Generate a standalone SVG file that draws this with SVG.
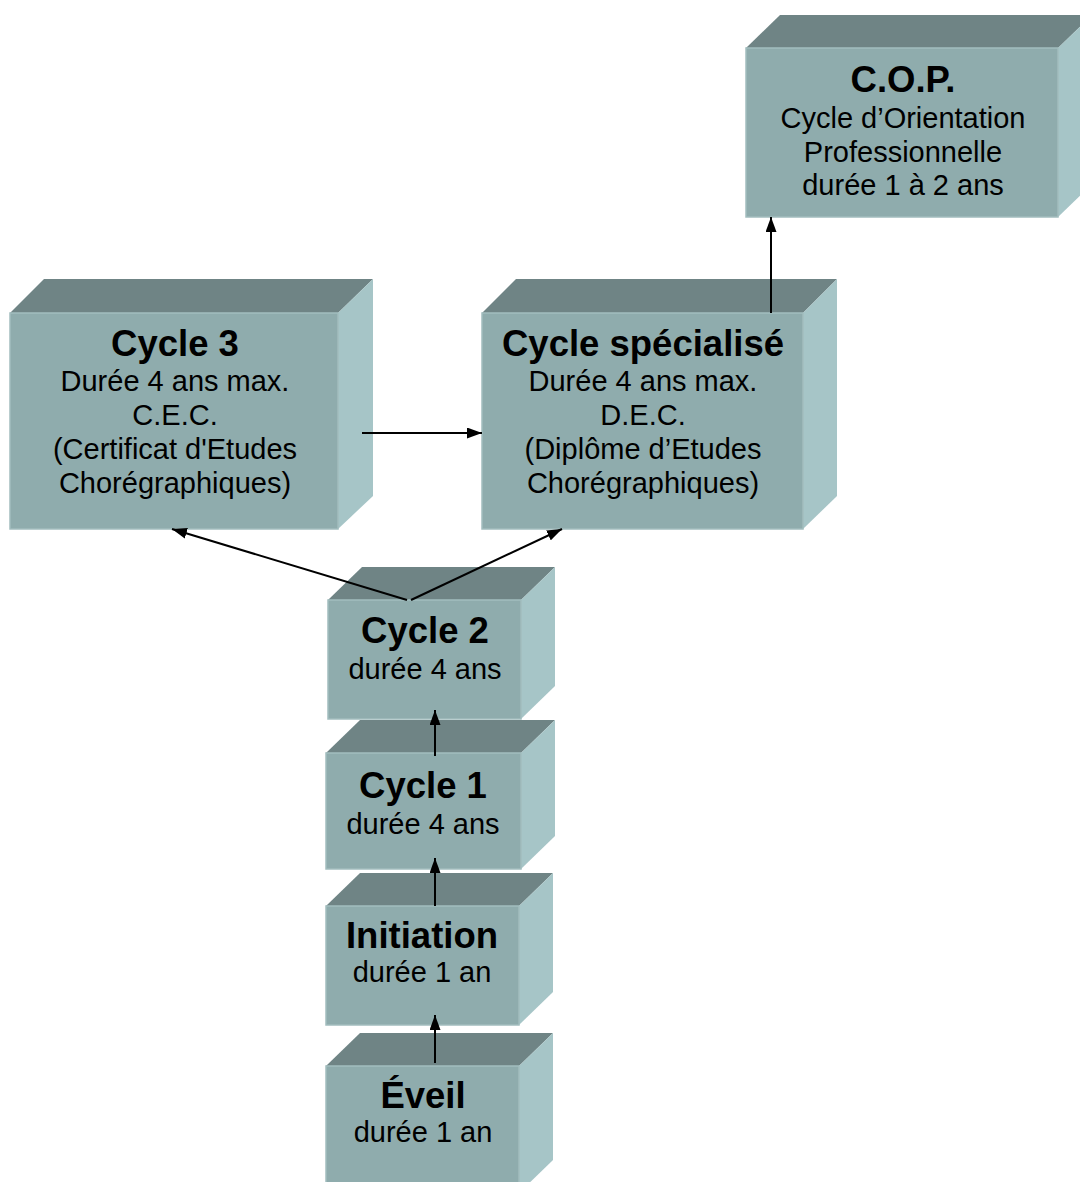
<svg xmlns="http://www.w3.org/2000/svg" width="1080" height="1182" viewBox="0 0 1080 1182">
<style>
.top{fill:#6f8485}
.side{fill:#a6c5c7}
.front{fill:#8facad;stroke:#a2bdbe;stroke-width:1.5}
text{font-family:"Liberation Sans",Arial,sans-serif;fill:#000;text-anchor:middle}
.b{font-weight:bold;font-size:36.5px}
.r{font-size:29px}
.edge{stroke:#000;stroke-width:2;fill:none;marker-end:url(#ah)}
</style>
<defs>
<marker id="ah" markerUnits="userSpaceOnUse" markerWidth="15" markerHeight="11" refX="15" refY="5.5" orient="auto">
<path d="M0,0 L15,5.5 L0,11 z" fill="#000"/>
</marker>
</defs>
<rect width="1080" height="1182" fill="#fff"/>
<g id="cop">
<polygon class="top" points="746,48 780,15 1092,15 1058,48"/>
<polygon class="side" points="1058,48 1092,15 1092,184 1058,217"/>
<rect class="front" x="746" y="48" width="312" height="169"/>
<text class="b" x="903" y="92">C.O.P.</text>
<text class="r" x="903" y="128">Cycle d’Orientation</text>
<text class="r" x="903" y="162">Professionnelle</text>
<text class="r" x="903" y="195">durée 1 à 2 ans</text>
</g>
<g id="cycle3">
<polygon class="top" points="10,313 44,279 373,279 338,313"/>
<polygon class="side" points="338,313 373,279 373,496 338,529"/>
<rect class="front" x="10" y="313" width="328" height="216"/>
<text class="b" x="175" y="356">Cycle 3</text>
<text class="r" x="175" y="391">Durée 4 ans max.</text>
<text class="r" x="175" y="425">C.E.C.</text>
<text class="r" x="175" y="459">(Certificat d'Etudes</text>
<text class="r" x="175" y="493">Chorégraphiques)</text>
</g>
<g id="cycle-specialise">
<polygon class="top" points="482,313 516,279 837,279 803,313"/>
<polygon class="side" points="803,313 837,279 837,496 803,529"/>
<rect class="front" x="482" y="313" width="321" height="216"/>
<text class="b" x="643" y="356">Cycle spécialisé</text>
<text class="r" x="643" y="391">Durée 4 ans max.</text>
<text class="r" x="643" y="425">D.E.C.</text>
<text class="r" x="643" y="459">(Diplôme d’Etudes</text>
<text class="r" x="643" y="493">Chorégraphiques)</text>
</g>
<g id="cycle2">
<polygon class="top" points="328,600 362,567 555,567 521,600"/>
<polygon class="side" points="521,600 555,567 555,686 521,719"/>
<rect class="front" x="328" y="600" width="193" height="119"/>
<text class="b" x="425" y="643">Cycle 2</text>
<text class="r" x="425" y="679">durée 4 ans</text>
</g>
<g id="cycle1">
<polygon class="top" points="326,753 360,720 555,720 521,753"/>
<polygon class="side" points="521,753 555,720 555,836 521,869"/>
<rect class="front" x="326" y="753" width="195" height="116"/>
<text class="b" x="423" y="798">Cycle 1</text>
<text class="r" x="423" y="834">durée 4 ans</text>
</g>
<g id="initiation">
<polygon class="top" points="326,906 360,873 553,873 519,906"/>
<polygon class="side" points="519,906 553,873 553,992 519,1025"/>
<rect class="front" x="326" y="906" width="193" height="119"/>
<text class="b" x="422" y="948">Initiation</text>
<text class="r" x="422" y="982">durée 1 an</text>
</g>
<g id="eveil">
<polygon class="top" points="326,1066 360,1033 553,1033 519,1066"/>
<polygon class="side" points="519,1066 553,1033 553,1160 519,1193"/>
<rect class="front" x="326" y="1066" width="193" height="127"/>
<text class="b" x="423" y="1108">Éveil</text>
<text class="r" x="423" y="1142">durée 1 an</text>
</g>
<g id="connectors">
<line class="edge" x1="771" y1="313" x2="771" y2="217"/>
<line class="edge" x1="362" y1="433" x2="482" y2="433"/>
<line class="edge" x1="407" y1="600" x2="172" y2="529"/>
<line class="edge" x1="411" y1="600" x2="562" y2="529"/>
<line class="edge" x1="435" y1="756" x2="435" y2="710"/>
<line class="edge" x1="435" y1="906" x2="435" y2="858"/>
<line class="edge" x1="435" y1="1063" x2="435" y2="1015"/>
</g>
</svg>
